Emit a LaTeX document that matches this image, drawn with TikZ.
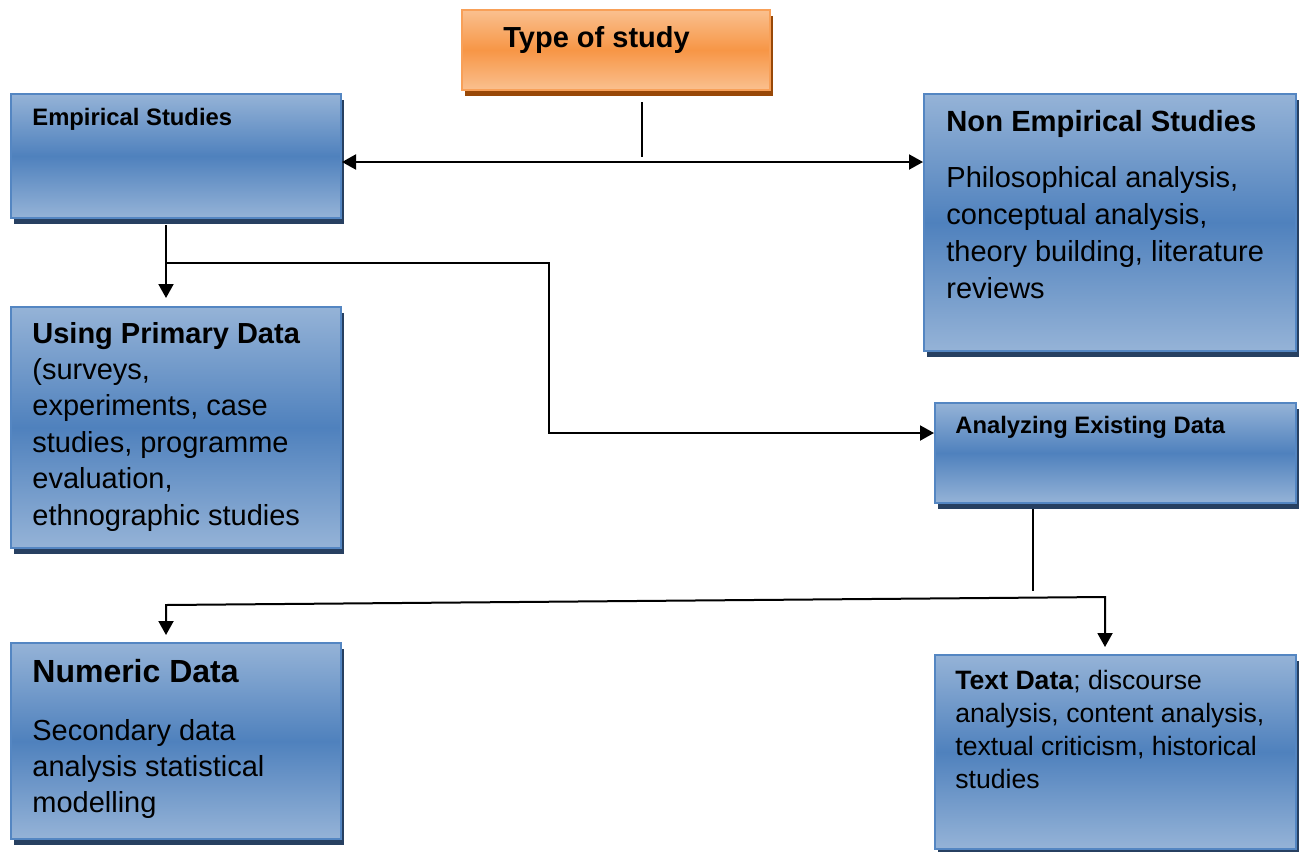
\documentclass[tikz,border=0pt]{standalone}
\usepackage{fontspec}
\setmainfont{Liberation Sans}
\usepackage{tikz}
\usetikzlibrary{arrows.meta,shadows}
\definecolor{boxlight}{RGB}{149,179,215}
\definecolor{boxdark}{RGB}{79,129,189}
\definecolor{boxedge}{RGB}{84,134,194}
\definecolor{boxshadow}{RGB}{39,64,97}
\definecolor{orlight}{RGB}{250,192,143}
\definecolor{ordark}{RGB}{247,150,70}
\definecolor{oredge}{RGB}{248,160,88}
\definecolor{orshadow}{RGB}{152,72,7}

\begin{document}
\begin{tikzpicture}[
      x=0.5pt, y=-0.5pt, >={Triangle[length=7pt,width=7.5pt]},
      frame/.style={line width=1pt, inner sep=0pt, anchor=north west},
      bluebox/.style={frame, draw=boxedge, top color=boxlight, bottom color=boxlight,
                      middle color=boxdark,
                      drop shadow={shadow xshift=1.6pt, shadow yshift=-3pt, fill=boxshadow, opacity=1}},
      orangebox/.style={frame, draw=oredge, top color=orlight, bottom color=orlight,
                        middle color=ordark,
                        drop shadow={shadow xshift=1.6pt, shadow yshift=-3pt, fill=orshadow, opacity=1}},
      lbl/.style={anchor=base west, align=left, inner sep=0pt},
      bodytxt/.style={lbl, font=\fontsize{14.5}{18.2}\selectfont},
      headtxt/.style={lbl, font=\fontsize{11.9}{14}\selectfont\bfseries},
      link/.style={line width=1pt},
    ]
    \useasboundingbox (0,0) rectangle (1299,851);

    % boxes
    \node[orangebox, minimum width=154pt, minimum height=40pt] (top) at (461,9) {};
    \node[bluebox, minimum width=165pt, minimum height=62pt] (emp) at (10,93) {};
    \node[bluebox, minimum width=186pt, minimum height=128.5pt] (nonemp) at (923,93) {};
    \node[bluebox, minimum width=165pt, minimum height=120.5pt] (prim) at (10,306) {};
    \node[bluebox, minimum width=180.5pt, minimum height=50pt] (anal) at (934,402) {};
    \node[bluebox, minimum width=165pt, minimum height=98pt] (num) at (10,642) {};
    \node[bluebox, minimum width=180.5pt, minimum height=97pt] (txt) at (934,654) {};

    % texts (multi-line ones sit on the baseline of their last line)
    \node[lbl, font=\fontsize{14.5}{17}\selectfont\bfseries] (top-t) at (503,47) {Type of study};
    \node[headtxt] (emp-t) at (32,125) {Empirical Studies};
    \node[lbl, font=\fontsize{14.6}{17}\selectfont\bfseries] (nonemp-h) at (946,131) {Non Empirical Studies};
    \node[bodytxt, font=\fontsize{14.5}{18.35}\selectfont] (nonemp-b) at (946,298)
      {Philosophical analysis,\\conceptual analysis,\\theory building, literature\\reviews};
    \node[bodytxt] (prim-t) at (32,525)
      {\textbf{Using Primary Data}\\(surveys,\\experiments, case\\studies, programme\\evaluation,\\ethnographic studies};
    \node[headtxt] (anal-t) at (955,433) {Analyzing Existing Data};
    \node[lbl, font=\fontsize{16}{19}\selectfont\bfseries] (num-h) at (32,682) {Numeric Data};
    \node[bodytxt, font=\fontsize{14.5}{17.8}\selectfont] (num-b) at (32,812)
      {Secondary data\\analysis statistical\\modelling};
    \node[lbl, font=\fontsize{13.3}{16.4}\selectfont] (txt-t) at (955,788)
      {\textbf{Text Data}; discourse\\analysis, content analysis,\\textual criticism, historical\\studies};

    % connectors
    \coordinate (hubtop) at (642,102);
    \coordinate (hub) at (642,162);
    \draw[link, shorten >=2.5pt] (hubtop) -- (hub);
    \draw[link, <->] (hub -| emp.east) -- (hub -| nonemp.west);

    \coordinate (branch) at (166,263);
    \coordinate (bend) at (549,433);
    \draw[link, ->, shorten <=3pt, shorten >=4pt] (branch |- emp.south) -- (branch |- prim.north);
    \draw[link, ->] (branch) -| (bend) -- (bend -| anal.west);

    \coordinate (fork) at (1033,591);
    \draw[link, shorten <=2.5pt] (fork |- anal.south) -- (fork);
    \coordinate (numbend) at (166,605);
    \coordinate (txtbend) at (1105,597);
    \draw[link, <->, shorten <=3.5pt, shorten >=3.5pt]
      (numbend |- num.north) -- (numbend) -- (txtbend) -- (txtbend |- txt.north);
  \end{tikzpicture}
\end{document}
